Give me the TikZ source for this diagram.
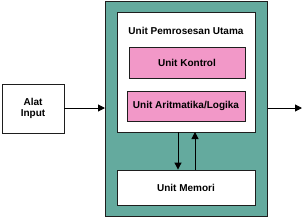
\documentclass[tikz,border=0pt]{standalone}
\usepackage{fontspec}
\setmainfont{Liberation Sans}
\usetikzlibrary{arrows.meta}
\definecolor{tealbg}{RGB}{100,170,158}
\definecolor{pinkbg}{RGB}{242,152,200}
\definecolor{edge}{RGB}{30,30,30}
\tikzset{
  box/.style={draw=edge, line width=0.9pt, fill=white},
  pinkbox/.style={draw=edge, line width=0.9pt, fill=pinkbg},
  lbl/.style={font=\fontsize{10}{11.5}\selectfont\bfseries, text=black, inner sep=0pt, align=center},
  arr/.style={draw=black, line width=1pt, -{Triangle[length=7pt,width=7pt]}}
}
\begin{document}
\begin{tikzpicture}[x=1pt,y=-1pt]
\useasboundingbox (0,0) rectangle (306,218);
% outer teal
\draw[draw=edge, line width=0.9pt, fill=tealbg] (105,1.5) rectangle (267.5,216.5);
\coordinate (tl) at (105,108);
\coordinate (tr) at (267.5,108);
% CPU box
\draw[box] (117,12.5) rectangle (255,132);
\node[lbl] (cpu) at (186,30.5) {Unit Pemrosesan Utama};
\node[pinkbox, minimum width=116pt, minimum height=31pt, inner sep=0pt] (cu) at (187,62.5) {};
\node[lbl] at (cu) {Unit Kontrol};
\node[pinkbox, minimum width=118pt, minimum height=30pt, inner sep=0pt] (alu) at (186,106) {};
\node[lbl] at (alu) {Unit Aritmatika/Logika};
\coordinate (cpub1) at (178,132);
\coordinate (cpub2) at (195,132);
% memory
\node[box, minimum width=138pt, minimum height=35pt, inner sep=0pt] (mem) at (186,187.5) {};
\node[lbl] at (mem) {Unit Memori};
% input
\node[box, minimum width=62pt, minimum height=49pt, inner sep=0pt] (inp) at (33,108.5) {};
\node[lbl] at (inp) {Alat\\Input};
\coordinate (out) at (302,108);
% arrows
\draw[arr] (inp.east |- tl) -- (tl);
\draw[arr] (tr) -- (out);
\draw[arr] (cpub1) -- (cpub1 |- mem.north);
\draw[arr] (cpub2 |- mem.north) -- (cpub2);
\end{tikzpicture}
\end{document}
